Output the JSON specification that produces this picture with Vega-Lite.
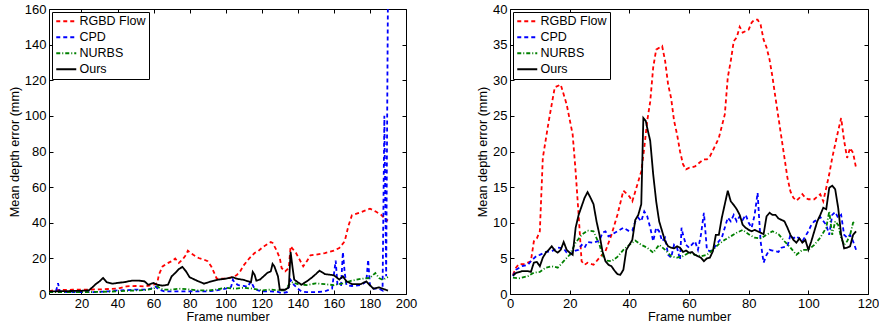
{
"$schema": "https://vega.github.io/schema/vega-lite/v6.json",
"padding": {"left": 7, "top": 2, "right": 2, "bottom": 2},
"config": {
  "font": "Liberation Sans",
  "view": {"stroke": "black", "strokeWidth": 1},
  "style": {"guide-label": {"fontSize": 13, "fill": "black", "font": "Liberation Sans"}, "guide-title": {"fontSize": 12.7, "fontWeight": "normal", "fill": "black", "font": "Liberation Sans"}},
  "axis": {"grid": false, "domain": false, "labelFlush": false, "labelOverlap": false, "tickColor": "black", "tickSize": -4, "labelPadding": 7, "labelFontSize": 13, "labelColor": "black", "titleFontSize": 12.7, "titleFontWeight": "normal", "titleColor": "black", "labelFont": "Liberation Sans", "titleFont": "Liberation Sans"},
  "legend": {"orient": "top-left", "offset": 3, "padding": 3, "strokeColor": "black", "fillColor": "white", "labelFontSize": 12.5, "labelColor": "black", "labelFont": "Liberation Sans", "symbolType": "M-1,0H3", "symbolSize": 100, "symbolStrokeWidth": 2, "rowPadding": 3, "labelOffset": 12},
  "concat": {"spacing": 58}
},
"datasets": {
"left": [
{"frame":2,"method":"RGBD Flow","err":1.5},{"frame":5,"method":"RGBD Flow","err":2.2},{"frame":10,"method":"RGBD Flow","err":2.3},{"frame":15,"method":"RGBD Flow","err":2.4},{"frame":20,"method":"RGBD Flow","err":2.4},{"frame":24,"method":"RGBD Flow","err":2.5},{"frame":30,"method":"RGBD Flow","err":2.6},{"frame":35,"method":"RGBD Flow","err":2.8},{"frame":40,"method":"RGBD Flow","err":3},{"frame":45,"method":"RGBD Flow","err":4.3},{"frame":50,"method":"RGBD Flow","err":4.5},{"frame":55,"method":"RGBD Flow","err":4.3},{"frame":60,"method":"RGBD Flow","err":5.2},{"frame":62,"method":"RGBD Flow","err":6},{"frame":63,"method":"RGBD Flow","err":11},{"frame":65,"method":"RGBD Flow","err":15.5},{"frame":67,"method":"RGBD Flow","err":16.9},{"frame":70,"method":"RGBD Flow","err":18.4},{"frame":72,"method":"RGBD Flow","err":19.9},{"frame":74,"method":"RGBD Flow","err":17.4},{"frame":76,"method":"RGBD Flow","err":19.3},{"frame":78,"method":"RGBD Flow","err":22},{"frame":79,"method":"RGBD Flow","err":24.3},{"frame":82,"method":"RGBD Flow","err":22},{"frame":85,"method":"RGBD Flow","err":20.2},{"frame":88,"method":"RGBD Flow","err":19.3},{"frame":90,"method":"RGBD Flow","err":18.4},{"frame":92,"method":"RGBD Flow","err":15.5},{"frame":94,"method":"RGBD Flow","err":11},{"frame":95,"method":"RGBD Flow","err":8.6},{"frame":100,"method":"RGBD Flow","err":8.6},{"frame":103,"method":"RGBD Flow","err":9.4},{"frame":106,"method":"RGBD Flow","err":10.5},{"frame":108,"method":"RGBD Flow","err":12.7},{"frame":110,"method":"RGBD Flow","err":16.1},{"frame":113,"method":"RGBD Flow","err":19.9},{"frame":116,"method":"RGBD Flow","err":23},{"frame":118,"method":"RGBD Flow","err":24},{"frame":120,"method":"RGBD Flow","err":25.8},{"frame":122,"method":"RGBD Flow","err":27.3},{"frame":125,"method":"RGBD Flow","err":29.2},{"frame":126,"method":"RGBD Flow","err":28.7},{"frame":128,"method":"RGBD Flow","err":24.9},{"frame":130,"method":"RGBD Flow","err":20.2},{"frame":131,"method":"RGBD Flow","err":14.6},{"frame":133,"method":"RGBD Flow","err":12.7},{"frame":135,"method":"RGBD Flow","err":14.6},{"frame":136,"method":"RGBD Flow","err":26.8},{"frame":137,"method":"RGBD Flow","err":25.5},{"frame":139,"method":"RGBD Flow","err":23},{"frame":141,"method":"RGBD Flow","err":19.3},{"frame":143,"method":"RGBD Flow","err":15.5},{"frame":145,"method":"RGBD Flow","err":18.4},{"frame":147,"method":"RGBD Flow","err":21.7},{"frame":150,"method":"RGBD Flow","err":22.1},{"frame":155,"method":"RGBD Flow","err":23},{"frame":160,"method":"RGBD Flow","err":24.3},{"frame":163,"method":"RGBD Flow","err":25.8},{"frame":166,"method":"RGBD Flow","err":29.6},{"frame":168,"method":"RGBD Flow","err":38},{"frame":170,"method":"RGBD Flow","err":44.2},{"frame":175,"method":"RGBD Flow","err":45.9},{"frame":180,"method":"RGBD Flow","err":47.9},{"frame":183,"method":"RGBD Flow","err":46.4},{"frame":186,"method":"RGBD Flow","err":44.6},{"frame":189,"method":"RGBD Flow","err":41.8},{"frame":190,"method":"RGBD Flow","err":41.2},
{"frame":2,"method":"CPD","err":1},{"frame":5,"method":"CPD","err":1.2},{"frame":6,"method":"CPD","err":2},{"frame":7,"method":"CPD","err":6},{"frame":8,"method":"CPD","err":1.5},{"frame":12,"method":"CPD","err":1},{"frame":20,"method":"CPD","err":1},{"frame":25,"method":"CPD","err":1},{"frame":30,"method":"CPD","err":1.2},{"frame":35,"method":"CPD","err":1.5},{"frame":40,"method":"CPD","err":2},{"frame":45,"method":"CPD","err":2.2},{"frame":50,"method":"CPD","err":2.5},{"frame":55,"method":"CPD","err":2.5},{"frame":58,"method":"CPD","err":2.8},{"frame":61,"method":"CPD","err":4.2},{"frame":63,"method":"CPD","err":2.5},{"frame":66,"method":"CPD","err":1.5},{"frame":70,"method":"CPD","err":1.5},{"frame":75,"method":"CPD","err":1.5},{"frame":80,"method":"CPD","err":1.5},{"frame":85,"method":"CPD","err":1.5},{"frame":90,"method":"CPD","err":1.5},{"frame":95,"method":"CPD","err":2},{"frame":100,"method":"CPD","err":3},{"frame":103,"method":"CPD","err":4},{"frame":104,"method":"CPD","err":8},{"frame":105,"method":"CPD","err":6.2},{"frame":107,"method":"CPD","err":5},{"frame":110,"method":"CPD","err":4.5},{"frame":112,"method":"CPD","err":4},{"frame":114,"method":"CPD","err":7},{"frame":116,"method":"CPD","err":3},{"frame":118,"method":"CPD","err":2},{"frame":120,"method":"CPD","err":1.5},{"frame":125,"method":"CPD","err":1.5},{"frame":129,"method":"CPD","err":1.2},{"frame":131,"method":"CPD","err":0.5},{"frame":134,"method":"CPD","err":1},{"frame":136,"method":"CPD","err":8},{"frame":138,"method":"CPD","err":5},{"frame":140,"method":"CPD","err":3},{"frame":142,"method":"CPD","err":1.5},{"frame":145,"method":"CPD","err":1},{"frame":150,"method":"CPD","err":1},{"frame":155,"method":"CPD","err":1.5},{"frame":159,"method":"CPD","err":3},{"frame":161,"method":"CPD","err":18.7},{"frame":162,"method":"CPD","err":5},{"frame":164,"method":"CPD","err":5},{"frame":165,"method":"CPD","err":23.6},{"frame":166,"method":"CPD","err":12},{"frame":167,"method":"CPD","err":5},{"frame":170,"method":"CPD","err":4.5},{"frame":175,"method":"CPD","err":5},{"frame":178,"method":"CPD","err":7},{"frame":179,"method":"CPD","err":19.3},{"frame":180,"method":"CPD","err":5},{"frame":182,"method":"CPD","err":3},{"frame":185,"method":"CPD","err":3},{"frame":187,"method":"CPD","err":2},{"frame":188,"method":"CPD","err":100},{"frame":189,"method":"CPD","err":10},{"frame":190,"method":"CPD","err":170},
{"frame":2,"method":"NURBS","err":1},{"frame":10,"method":"NURBS","err":1},{"frame":20,"method":"NURBS","err":1},{"frame":30,"method":"NURBS","err":1.2},{"frame":40,"method":"NURBS","err":1.5},{"frame":45,"method":"NURBS","err":1.8},{"frame":50,"method":"NURBS","err":2},{"frame":55,"method":"NURBS","err":2.2},{"frame":60,"method":"NURBS","err":3},{"frame":62,"method":"NURBS","err":4.3},{"frame":64,"method":"NURBS","err":3},{"frame":66,"method":"NURBS","err":2.5},{"frame":70,"method":"NURBS","err":2.5},{"frame":75,"method":"NURBS","err":3},{"frame":80,"method":"NURBS","err":2.5},{"frame":85,"method":"NURBS","err":2},{"frame":90,"method":"NURBS","err":2},{"frame":95,"method":"NURBS","err":2.5},{"frame":100,"method":"NURBS","err":3.5},{"frame":105,"method":"NURBS","err":3},{"frame":110,"method":"NURBS","err":3.5},{"frame":115,"method":"NURBS","err":3},{"frame":120,"method":"NURBS","err":2},{"frame":125,"method":"NURBS","err":2.5},{"frame":130,"method":"NURBS","err":2},{"frame":133,"method":"NURBS","err":2},{"frame":135,"method":"NURBS","err":5.2},{"frame":137,"method":"NURBS","err":6.5},{"frame":140,"method":"NURBS","err":5.5},{"frame":145,"method":"NURBS","err":5},{"frame":150,"method":"NURBS","err":6},{"frame":155,"method":"NURBS","err":5.5},{"frame":160,"method":"NURBS","err":5},{"frame":165,"method":"NURBS","err":6},{"frame":170,"method":"NURBS","err":7.5},{"frame":175,"method":"NURBS","err":8.5},{"frame":180,"method":"NURBS","err":9},{"frame":183,"method":"NURBS","err":11.8},{"frame":185,"method":"NURBS","err":9},{"frame":187,"method":"NURBS","err":8},{"frame":190,"method":"NURBS","err":9.5},
{"frame":2,"method":"Ours","err":1.5},{"frame":5,"method":"Ours","err":1.5},{"frame":10,"method":"Ours","err":1.6},{"frame":15,"method":"Ours","err":1.7},{"frame":20,"method":"Ours","err":1.8},{"frame":24,"method":"Ours","err":2},{"frame":26,"method":"Ours","err":3.7},{"frame":28,"method":"Ours","err":5.6},{"frame":30,"method":"Ours","err":7.1},{"frame":32,"method":"Ours","err":9},{"frame":34,"method":"Ours","err":6.6},{"frame":37,"method":"Ours","err":5.8},{"frame":40,"method":"Ours","err":6.2},{"frame":44,"method":"Ours","err":6.7},{"frame":48,"method":"Ours","err":7.5},{"frame":52,"method":"Ours","err":7.5},{"frame":55,"method":"Ours","err":7.1},{"frame":57,"method":"Ours","err":5.2},{"frame":60,"method":"Ours","err":6.2},{"frame":62,"method":"Ours","err":5.2},{"frame":65,"method":"Ours","err":4.7},{"frame":68,"method":"Ours","err":5.2},{"frame":70,"method":"Ours","err":9.9},{"frame":72,"method":"Ours","err":11.8},{"frame":74,"method":"Ours","err":14},{"frame":76,"method":"Ours","err":15.2},{"frame":78,"method":"Ours","err":12.7},{"frame":80,"method":"Ours","err":9.4},{"frame":84,"method":"Ours","err":7.5},{"frame":88,"method":"Ours","err":5.8},{"frame":92,"method":"Ours","err":7.1},{"frame":96,"method":"Ours","err":8.1},{"frame":100,"method":"Ours","err":8.6},{"frame":104,"method":"Ours","err":9.4},{"frame":106,"method":"Ours","err":8.6},{"frame":110,"method":"Ours","err":7.9},{"frame":114,"method":"Ours","err":6.6},{"frame":115,"method":"Ours","err":12.4},{"frame":116,"method":"Ours","err":10.9},{"frame":117,"method":"Ours","err":7.5},{"frame":119,"method":"Ours","err":8.1},{"frame":121,"method":"Ours","err":9.9},{"frame":123,"method":"Ours","err":11.8},{"frame":125,"method":"Ours","err":12.7},{"frame":126,"method":"Ours","err":16.9},{"frame":127,"method":"Ours","err":15.5},{"frame":128,"method":"Ours","err":12.7},{"frame":129,"method":"Ours","err":9.9},{"frame":130,"method":"Ours","err":2.4},{"frame":133,"method":"Ours","err":2.4},{"frame":135,"method":"Ours","err":3.7},{"frame":136,"method":"Ours","err":23.6},{"frame":137,"method":"Ours","err":15.5},{"frame":138,"method":"Ours","err":8.1},{"frame":140,"method":"Ours","err":6.6},{"frame":142,"method":"Ours","err":5.2},{"frame":145,"method":"Ours","err":7.1},{"frame":148,"method":"Ours","err":9.4},{"frame":150,"method":"Ours","err":11.2},{"frame":152,"method":"Ours","err":13.1},{"frame":155,"method":"Ours","err":11.2},{"frame":160,"method":"Ours","err":10.5},{"frame":163,"method":"Ours","err":8.1},{"frame":165,"method":"Ours","err":9.9},{"frame":167,"method":"Ours","err":7.1},{"frame":170,"method":"Ours","err":5.6},{"frame":175,"method":"Ours","err":5.6},{"frame":178,"method":"Ours","err":7.1},{"frame":180,"method":"Ours","err":4.9},{"frame":182,"method":"Ours","err":3},{"frame":185,"method":"Ours","err":3.7},{"frame":187,"method":"Ours","err":3},{"frame":190,"method":"Ours","err":1.9}
],
"right": [
{"frame":1,"method":"RGBD Flow","err":2.7},{"frame":2,"method":"RGBD Flow","err":3.7},{"frame":3,"method":"RGBD Flow","err":4.2},{"frame":5,"method":"RGBD Flow","err":4.2},{"frame":7,"method":"RGBD Flow","err":4.6},{"frame":8,"method":"RGBD Flow","err":7.4},{"frame":9,"method":"RGBD Flow","err":7.8},{"frame":10,"method":"RGBD Flow","err":8.8},{"frame":11,"method":"RGBD Flow","err":19.1},{"frame":13,"method":"RGBD Flow","err":24.3},{"frame":15,"method":"RGBD Flow","err":29},{"frame":17,"method":"RGBD Flow","err":29.4},{"frame":19,"method":"RGBD Flow","err":26.6},{"frame":21,"method":"RGBD Flow","err":22.4},{"frame":22,"method":"RGBD Flow","err":17.2},{"frame":23,"method":"RGBD Flow","err":11.1},{"frame":24,"method":"RGBD Flow","err":4.6},{"frame":25,"method":"RGBD Flow","err":4.1},{"frame":26,"method":"RGBD Flow","err":4.4},{"frame":28,"method":"RGBD Flow","err":4.1},{"frame":30,"method":"RGBD Flow","err":5.1},{"frame":32,"method":"RGBD Flow","err":6},{"frame":34,"method":"RGBD Flow","err":8.3},{"frame":36,"method":"RGBD Flow","err":11.1},{"frame":38,"method":"RGBD Flow","err":14.5},{"frame":40,"method":"RGBD Flow","err":13.7},{"frame":41,"method":"RGBD Flow","err":13},{"frame":42,"method":"RGBD Flow","err":14.4},{"frame":44,"method":"RGBD Flow","err":17.2},{"frame":45,"method":"RGBD Flow","err":20.5},{"frame":46,"method":"RGBD Flow","err":24.3},{"frame":47,"method":"RGBD Flow","err":27},{"frame":48,"method":"RGBD Flow","err":31.8},{"frame":49,"method":"RGBD Flow","err":34.3},{"frame":51,"method":"RGBD Flow","err":34.8},{"frame":52,"method":"RGBD Flow","err":32.7},{"frame":53,"method":"RGBD Flow","err":29.4},{"frame":54,"method":"RGBD Flow","err":27.5},{"frame":55,"method":"RGBD Flow","err":24.3},{"frame":56,"method":"RGBD Flow","err":22.4},{"frame":57,"method":"RGBD Flow","err":20},{"frame":58,"method":"RGBD Flow","err":18.2},{"frame":59,"method":"RGBD Flow","err":17.5},{"frame":60,"method":"RGBD Flow","err":17.7},{"frame":62,"method":"RGBD Flow","err":17.9},{"frame":64,"method":"RGBD Flow","err":18.6},{"frame":65,"method":"RGBD Flow","err":18.9},{"frame":66,"method":"RGBD Flow","err":18.9},{"frame":67,"method":"RGBD Flow","err":19.3},{"frame":69,"method":"RGBD Flow","err":21},{"frame":70,"method":"RGBD Flow","err":21.9},{"frame":72,"method":"RGBD Flow","err":25.2},{"frame":73,"method":"RGBD Flow","err":30.4},{"frame":74,"method":"RGBD Flow","err":32.7},{"frame":75,"method":"RGBD Flow","err":35.5},{"frame":76,"method":"RGBD Flow","err":36},{"frame":77,"method":"RGBD Flow","err":37.5},{"frame":78,"method":"RGBD Flow","err":36.7},{"frame":79,"method":"RGBD Flow","err":36.9},{"frame":80,"method":"RGBD Flow","err":37.1},{"frame":81,"method":"RGBD Flow","err":38.1},{"frame":82,"method":"RGBD Flow","err":38.5},{"frame":83,"method":"RGBD Flow","err":38.5},{"frame":84,"method":"RGBD Flow","err":37.8},{"frame":85,"method":"RGBD Flow","err":35.7},{"frame":86,"method":"RGBD Flow","err":34.6},{"frame":87,"method":"RGBD Flow","err":32.9},{"frame":88,"method":"RGBD Flow","err":30.4},{"frame":89,"method":"RGBD Flow","err":27.5},{"frame":90,"method":"RGBD Flow","err":24.7},{"frame":91,"method":"RGBD Flow","err":21.9},{"frame":92,"method":"RGBD Flow","err":19.1},{"frame":93,"method":"RGBD Flow","err":16.3},{"frame":94,"method":"RGBD Flow","err":14.4},{"frame":95,"method":"RGBD Flow","err":13.5},{"frame":96,"method":"RGBD Flow","err":13.1},{"frame":97,"method":"RGBD Flow","err":13.5},{"frame":98,"method":"RGBD Flow","err":14},{"frame":99,"method":"RGBD Flow","err":13.5},{"frame":100,"method":"RGBD Flow","err":13.3},{"frame":102,"method":"RGBD Flow","err":13.3},{"frame":104,"method":"RGBD Flow","err":14},{"frame":105,"method":"RGBD Flow","err":13},{"frame":106,"method":"RGBD Flow","err":14.9},{"frame":107,"method":"RGBD Flow","err":16.8},{"frame":108,"method":"RGBD Flow","err":19.1},{"frame":109,"method":"RGBD Flow","err":21},{"frame":110,"method":"RGBD Flow","err":22.9},{"frame":111,"method":"RGBD Flow","err":24.7},{"frame":112,"method":"RGBD Flow","err":21.5},{"frame":113,"method":"RGBD Flow","err":19.1},{"frame":114,"method":"RGBD Flow","err":20.5},{"frame":115,"method":"RGBD Flow","err":19.8},{"frame":116,"method":"RGBD Flow","err":17.7},
{"frame":1,"method":"CPD","err":2.5},{"frame":2,"method":"CPD","err":3.4},{"frame":4,"method":"CPD","err":3.9},{"frame":6,"method":"CPD","err":4.1},{"frame":7,"method":"CPD","err":4.6},{"frame":8,"method":"CPD","err":5},{"frame":9,"method":"CPD","err":5.4},{"frame":10,"method":"CPD","err":5.5},{"frame":12,"method":"CPD","err":5.9},{"frame":14,"method":"CPD","err":6},{"frame":16,"method":"CPD","err":6.5},{"frame":18,"method":"CPD","err":6.4},{"frame":19,"method":"CPD","err":5.8},{"frame":20,"method":"CPD","err":5.5},{"frame":22,"method":"CPD","err":6.1},{"frame":23,"method":"CPD","err":6.2},{"frame":24,"method":"CPD","err":6.9},{"frame":25,"method":"CPD","err":6.5},{"frame":26,"method":"CPD","err":7.3},{"frame":28,"method":"CPD","err":7.2},{"frame":30,"method":"CPD","err":7.5},{"frame":31,"method":"CPD","err":8.6},{"frame":32,"method":"CPD","err":8.8},{"frame":33,"method":"CPD","err":8.1},{"frame":34,"method":"CPD","err":8.3},{"frame":36,"method":"CPD","err":8.8},{"frame":38,"method":"CPD","err":9.3},{"frame":40,"method":"CPD","err":8.8},{"frame":41,"method":"CPD","err":8.9},{"frame":42,"method":"CPD","err":10.2},{"frame":43,"method":"CPD","err":10.7},{"frame":44,"method":"CPD","err":10.2},{"frame":45,"method":"CPD","err":11.6},{"frame":46,"method":"CPD","err":10.9},{"frame":47,"method":"CPD","err":9.3},{"frame":48,"method":"CPD","err":7.4},{"frame":49,"method":"CPD","err":9.3},{"frame":50,"method":"CPD","err":8.8},{"frame":51,"method":"CPD","err":7.4},{"frame":52,"method":"CPD","err":7.9},{"frame":53,"method":"CPD","err":5.5},{"frame":54,"method":"CPD","err":5.1},{"frame":55,"method":"CPD","err":6.9},{"frame":56,"method":"CPD","err":6.5},{"frame":57,"method":"CPD","err":4.8},{"frame":57.5,"method":"CPD","err":9.3},{"frame":58,"method":"CPD","err":8.3},{"frame":59,"method":"CPD","err":6.9},{"frame":60,"method":"CPD","err":6.5},{"frame":62,"method":"CPD","err":7.4},{"frame":63,"method":"CPD","err":6.2},{"frame":64,"method":"CPD","err":8.3},{"frame":65,"method":"CPD","err":11.4},{"frame":66,"method":"CPD","err":6.2},{"frame":67,"method":"CPD","err":6},{"frame":68,"method":"CPD","err":6.2},{"frame":70,"method":"CPD","err":7.4},{"frame":71,"method":"CPD","err":7.9},{"frame":72,"method":"CPD","err":9.3},{"frame":73,"method":"CPD","err":10.7},{"frame":74,"method":"CPD","err":10.2},{"frame":75,"method":"CPD","err":11.1},{"frame":76,"method":"CPD","err":10.2},{"frame":77,"method":"CPD","err":10.9},{"frame":78,"method":"CPD","err":10.4},{"frame":79,"method":"CPD","err":11.1},{"frame":80,"method":"CPD","err":10},{"frame":81,"method":"CPD","err":9.3},{"frame":82,"method":"CPD","err":11.1},{"frame":83,"method":"CPD","err":14.2},{"frame":83.5,"method":"CPD","err":10.7},{"frame":84,"method":"CPD","err":7.4},{"frame":85,"method":"CPD","err":4.4},{"frame":86,"method":"CPD","err":5.5},{"frame":87,"method":"CPD","err":6.2},{"frame":88,"method":"CPD","err":6.1},{"frame":90,"method":"CPD","err":5.9},{"frame":91,"method":"CPD","err":6.5},{"frame":93,"method":"CPD","err":6.7},{"frame":94,"method":"CPD","err":8.3},{"frame":95,"method":"CPD","err":7.8},{"frame":96,"method":"CPD","err":8.1},{"frame":98,"method":"CPD","err":7.4},{"frame":99,"method":"CPD","err":8.1},{"frame":100,"method":"CPD","err":8.8},{"frame":101,"method":"CPD","err":9.7},{"frame":102,"method":"CPD","err":10.2},{"frame":103,"method":"CPD","err":10.4},{"frame":104,"method":"CPD","err":10.8},{"frame":106,"method":"CPD","err":9.7},{"frame":107,"method":"CPD","err":8.3},{"frame":108,"method":"CPD","err":11.1},{"frame":109,"method":"CPD","err":11.5},{"frame":110,"method":"CPD","err":10.7},{"frame":111,"method":"CPD","err":11.1},{"frame":112,"method":"CPD","err":8.3},{"frame":113,"method":"CPD","err":7.9},{"frame":114,"method":"CPD","err":8.3},{"frame":115,"method":"CPD","err":7.4},{"frame":116,"method":"CPD","err":6.2},
{"frame":1,"method":"NURBS","err":2.3},{"frame":3,"method":"NURBS","err":2.2},{"frame":6,"method":"NURBS","err":2.5},{"frame":8,"method":"NURBS","err":3},{"frame":10,"method":"NURBS","err":3.1},{"frame":12,"method":"NURBS","err":3.7},{"frame":14,"method":"NURBS","err":3.9},{"frame":16,"method":"NURBS","err":3.7},{"frame":18,"method":"NURBS","err":4.6},{"frame":20,"method":"NURBS","err":5.5},{"frame":22,"method":"NURBS","err":7.2},{"frame":24,"method":"NURBS","err":8.3},{"frame":26,"method":"NURBS","err":8.9},{"frame":28,"method":"NURBS","err":8.8},{"frame":30,"method":"NURBS","err":6.9},{"frame":31,"method":"NURBS","err":5.5},{"frame":32,"method":"NURBS","err":4.7},{"frame":34,"method":"NURBS","err":4.6},{"frame":36,"method":"NURBS","err":5.2},{"frame":38,"method":"NURBS","err":6.2},{"frame":40,"method":"NURBS","err":6.9},{"frame":42,"method":"NURBS","err":7.5},{"frame":44,"method":"NURBS","err":6.9},{"frame":46,"method":"NURBS","err":6.5},{"frame":48,"method":"NURBS","err":5.8},{"frame":50,"method":"NURBS","err":6.9},{"frame":52,"method":"NURBS","err":6.2},{"frame":54,"method":"NURBS","err":5.3},{"frame":56,"method":"NURBS","err":5.1},{"frame":58,"method":"NURBS","err":5.3},{"frame":60,"method":"NURBS","err":5.8},{"frame":62,"method":"NURBS","err":5.5},{"frame":64,"method":"NURBS","err":5.3},{"frame":66,"method":"NURBS","err":5.5},{"frame":68,"method":"NURBS","err":6.2},{"frame":70,"method":"NURBS","err":7},{"frame":72,"method":"NURBS","err":7.6},{"frame":74,"method":"NURBS","err":8.1},{"frame":76,"method":"NURBS","err":8.6},{"frame":78,"method":"NURBS","err":9},{"frame":80,"method":"NURBS","err":8.4},{"frame":82,"method":"NURBS","err":7.9},{"frame":84,"method":"NURBS","err":7.8},{"frame":86,"method":"NURBS","err":8.3},{"frame":88,"method":"NURBS","err":8.8},{"frame":90,"method":"NURBS","err":8.4},{"frame":92,"method":"NURBS","err":7.4},{"frame":94,"method":"NURBS","err":6.5},{"frame":96,"method":"NURBS","err":5.5},{"frame":98,"method":"NURBS","err":6.2},{"frame":100,"method":"NURBS","err":6.2},{"frame":102,"method":"NURBS","err":6.9},{"frame":104,"method":"NURBS","err":7.9},{"frame":106,"method":"NURBS","err":9.3},{"frame":107,"method":"NURBS","err":11.6},{"frame":108,"method":"NURBS","err":8.3},{"frame":109,"method":"NURBS","err":10.2},{"frame":110,"method":"NURBS","err":9.7},{"frame":111,"method":"NURBS","err":7.9},{"frame":112,"method":"NURBS","err":6.9},{"frame":113,"method":"NURBS","err":7.4},{"frame":114,"method":"NURBS","err":8.3},{"frame":115,"method":"NURBS","err":10},{"frame":116,"method":"NURBS","err":10.2},
{"frame":1,"method":"Ours","err":2.6},{"frame":2,"method":"Ours","err":2.95},{"frame":4,"method":"Ours","err":3.2},{"frame":6,"method":"Ours","err":3.2},{"frame":7,"method":"Ours","err":3.1},{"frame":8,"method":"Ours","err":4.4},{"frame":9,"method":"Ours","err":4.5},{"frame":10,"method":"Ours","err":3.9},{"frame":11,"method":"Ours","err":5.1},{"frame":12,"method":"Ours","err":5.8},{"frame":13,"method":"Ours","err":6.2},{"frame":14,"method":"Ours","err":6.7},{"frame":15,"method":"Ours","err":6.1},{"frame":16,"method":"Ours","err":5.8},{"frame":17,"method":"Ours","err":6.2},{"frame":18,"method":"Ours","err":7.3},{"frame":19,"method":"Ours","err":6.2},{"frame":20,"method":"Ours","err":5.8},{"frame":21,"method":"Ours","err":5.5},{"frame":22,"method":"Ours","err":9.3},{"frame":23,"method":"Ours","err":11.1},{"frame":24,"method":"Ours","err":12.3},{"frame":25,"method":"Ours","err":13.5},{"frame":26,"method":"Ours","err":14.3},{"frame":27,"method":"Ours","err":13.5},{"frame":28,"method":"Ours","err":12.6},{"frame":29,"method":"Ours","err":10.2},{"frame":30,"method":"Ours","err":8.3},{"frame":31,"method":"Ours","err":6},{"frame":32,"method":"Ours","err":4.6},{"frame":33,"method":"Ours","err":4.1},{"frame":34,"method":"Ours","err":3.9},{"frame":35,"method":"Ours","err":3.3},{"frame":36,"method":"Ours","err":2.8},{"frame":37,"method":"Ours","err":2.7},{"frame":38,"method":"Ours","err":3.4},{"frame":39,"method":"Ours","err":6.2},{"frame":40,"method":"Ours","err":6.9},{"frame":41,"method":"Ours","err":7.6},{"frame":42,"method":"Ours","err":10.4},{"frame":43,"method":"Ours","err":11.1},{"frame":44,"method":"Ours","err":12.6},{"frame":44.7,"method":"Ours","err":24.7},{"frame":45.5,"method":"Ours","err":24.3},{"frame":46,"method":"Ours","err":23.3},{"frame":47,"method":"Ours","err":21.5},{"frame":48,"method":"Ours","err":16.8},{"frame":49,"method":"Ours","err":13},{"frame":50,"method":"Ours","err":10.2},{"frame":51,"method":"Ours","err":8.8},{"frame":52,"method":"Ours","err":7.4},{"frame":53,"method":"Ours","err":6.7},{"frame":54,"method":"Ours","err":6.5},{"frame":55,"method":"Ours","err":6.4},{"frame":56,"method":"Ours","err":6.7},{"frame":57,"method":"Ours","err":6.5},{"frame":58,"method":"Ours","err":5.9},{"frame":59,"method":"Ours","err":6.1},{"frame":60,"method":"Ours","err":5.8},{"frame":61,"method":"Ours","err":5.9},{"frame":62,"method":"Ours","err":5.5},{"frame":63,"method":"Ours","err":5.3},{"frame":64,"method":"Ours","err":5.1},{"frame":65,"method":"Ours","err":4.6},{"frame":66,"method":"Ours","err":5},{"frame":67,"method":"Ours","err":5.1},{"frame":68,"method":"Ours","err":6},{"frame":69,"method":"Ours","err":8.3},{"frame":70,"method":"Ours","err":8.3},{"frame":71,"method":"Ours","err":10.7},{"frame":72,"method":"Ours","err":12.6},{"frame":73,"method":"Ours","err":14.5},{"frame":74,"method":"Ours","err":13},{"frame":75,"method":"Ours","err":12.5},{"frame":76,"method":"Ours","err":11.9},{"frame":77,"method":"Ours","err":11.1},{"frame":78,"method":"Ours","err":9.7},{"frame":79,"method":"Ours","err":9.3},{"frame":80,"method":"Ours","err":9},{"frame":81,"method":"Ours","err":8.8},{"frame":82,"method":"Ours","err":9},{"frame":83,"method":"Ours","err":8.8},{"frame":84,"method":"Ours","err":8.6},{"frame":85,"method":"Ours","err":8.4},{"frame":86,"method":"Ours","err":10.9},{"frame":87,"method":"Ours","err":11.4},{"frame":88,"method":"Ours","err":11.1},{"frame":89,"method":"Ours","err":11.1},{"frame":90,"method":"Ours","err":10.6},{"frame":91,"method":"Ours","err":10.4},{"frame":92,"method":"Ours","err":10.2},{"frame":93,"method":"Ours","err":9.3},{"frame":94,"method":"Ours","err":8.3},{"frame":95,"method":"Ours","err":7.6},{"frame":96,"method":"Ours","err":7.2},{"frame":97,"method":"Ours","err":7.8},{"frame":98,"method":"Ours","err":7.2},{"frame":99,"method":"Ours","err":7.6},{"frame":100,"method":"Ours","err":6.2},{"frame":101,"method":"Ours","err":7.4},{"frame":102,"method":"Ours","err":8.8},{"frame":103,"method":"Ours","err":10.2},{"frame":104,"method":"Ours","err":11.1},{"frame":105,"method":"Ours","err":12.1},{"frame":106,"method":"Ours","err":11.9},{"frame":107,"method":"Ours","err":14.9},{"frame":108,"method":"Ours","err":15.2},{"frame":109,"method":"Ours","err":14.7},{"frame":110,"method":"Ours","err":12.1},{"frame":111,"method":"Ours","err":8.3},{"frame":112,"method":"Ours","err":6.4},{"frame":113,"method":"Ours","err":6.5},{"frame":114,"method":"Ours","err":6.7},{"frame":115,"method":"Ours","err":8.3},{"frame":116,"method":"Ours","err":8.8}
]
},
"resolve": {"scale": {"color": "independent", "strokeDash": "independent"}, "legend": {"color": "independent", "strokeDash": "independent"}},
"hconcat": [
{
  "width": 357, "height": 285,
  "data": {"name": "left"},
  "layer": [
    {"mark": {"type": "line", "strokeWidth": 1.8, "clip": true},
     "encoding": {
       "x": {"field": "frame", "type": "quantitative", "scale": {"domain": [2, 200], "nice": false, "zero": false}, "axis": {"values": [20,40,60,80,100,120,140,160,180,200], "title": "Frame number", "titlePadding": 0, "labelFontSize": 13, "titleFontSize": 12.7}},
       "y": {"field": "err", "type": "quantitative", "scale": {"domain": [0, 160], "nice": false}, "axis": {"values": [0,20,40,60,80,100,120,140,160], "title": "Mean depth error (mm)", "titlePadding": 3, "labelFontSize": 13, "titleFontSize": 12.7}},
       "color": {"field": "method", "type": "nominal", "scale": {"domain": ["RGBD Flow","CPD","NURBS","Ours"], "range": ["#ff0000","#0000ff","#008000","#000000"]}, "legend": {"title": null}},
       "strokeDash": {"field": "method", "type": "nominal", "scale": {"domain": ["RGBD Flow","CPD","NURBS","Ours"], "range": [[4,3],[4,3],[4,2,1,2],[1,0]]}, "legend": {"title": null}}
     }},
    {"transform": [{"filter": "datum.err <= 40"}],
     "mark": {"type": "point", "opacity": 0, "clip": true},
     "encoding": {
       "x": {"field": "frame", "type": "quantitative", "scale": {"domain": [2, 200], "nice": false, "zero": false}, "axis": {"orient": "top", "values": [20,40,60,80,100,120,140,160,180,200], "labels": false, "title": null}},
       "y": {"field": "err", "type": "quantitative", "scale": {"domain": [0, 160], "nice": false}, "axis": {"orient": "right", "values": [0,20,40,60,80,100,120,140,160], "labels": false, "title": null}}
     }}
  ],
  "resolve": {"axis": {"x": "independent", "y": "independent"}}
},
{
  "width": 358, "height": 285,
  "data": {"name": "right"},
  "layer": [
    {"mark": {"type": "line", "strokeWidth": 1.8, "clip": true},
     "encoding": {
       "x": {"field": "frame", "type": "quantitative", "scale": {"domain": [0, 120], "nice": false}, "axis": {"values": [0,20,40,60,80,100,120], "title": "Frame number", "titlePadding": 0, "labelFontSize": 13, "titleFontSize": 12.7}},
       "y": {"field": "err", "type": "quantitative", "scale": {"domain": [0, 40], "nice": false}, "axis": {"values": [0,5,10,15,20,25,30,35,40], "title": "Mean depth error (mm)", "titlePadding": 3, "labelFontSize": 13, "titleFontSize": 12.7}},
       "color": {"field": "method", "type": "nominal", "scale": {"domain": ["RGBD Flow","CPD","NURBS","Ours"], "range": ["#ff0000","#0000ff","#008000","#000000"]}, "legend": {"title": null}},
       "strokeDash": {"field": "method", "type": "nominal", "scale": {"domain": ["RGBD Flow","CPD","NURBS","Ours"], "range": [[4,3],[4,3],[4,2,1,2],[1,0]]}, "legend": {"title": null}}
     }},
    {"transform": [{"filter": "datum.err <= 40"}],
     "mark": {"type": "point", "opacity": 0, "clip": true},
     "encoding": {
       "x": {"field": "frame", "type": "quantitative", "scale": {"domain": [0, 120], "nice": false}, "axis": {"orient": "top", "values": [0,20,40,60,80,100,120], "labels": false, "title": null}},
       "y": {"field": "err", "type": "quantitative", "scale": {"domain": [0, 40], "nice": false}, "axis": {"orient": "right", "values": [0,5,10,15,20,25,30,35,40], "labels": false, "title": null}}
     }}
  ],
  "resolve": {"axis": {"x": "independent", "y": "independent"}}
}
]
}
